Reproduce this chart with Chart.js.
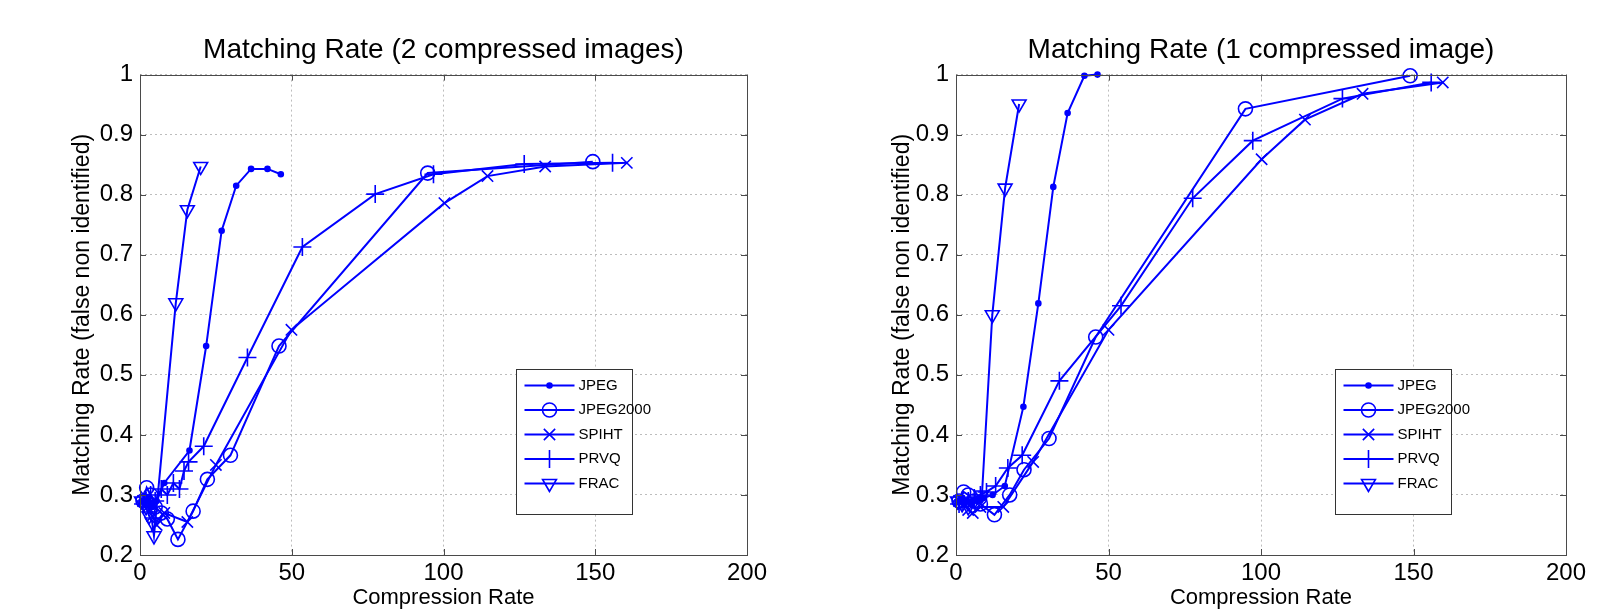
<!DOCTYPE html>
<html>
<head>
<meta charset="utf-8">
<script src="https://cdn.jsdelivr.net/npm/chart.js@4/dist/chart.umd.min.js"></script>
<style>
html, body { margin: 0; padding: 0; background: #fff; }
#wrap { position: relative; width: 1624px; height: 613px; overflow: hidden; }
#wrap canvas { position: absolute; top: 0; }
</style>
</head>
<body>
<div id="wrap">
  <canvas id="left" width="812" height="613" style="left:0px"></canvas>
  <canvas id="right" width="812" height="613" style="left:812px"></canvas>
</div>
<script>
// matching rate vs compression rate, two panels
var seriesNames = ["JPEG", "JPEG2000", "SPIHT", "PRVQ", "FRAC"];
var xTicks = [0, 50, 100, 150, 200];
var yTicks = [0.2, 0.3, 0.4, 0.5, 0.6, 0.7, 0.8, 0.9, 1];

// left panel: 2 compressed images
var l_jpeg_x = [0.5, 1.5, 2.5, 4, 5.5, 8, 16.3, 21.8, 26.9, 31.7, 36.6, 42.0, 46.4];
var l_jpeg_y = [0.29, 0.285, 0.29, 0.28, 0.29, 0.32, 0.374, 0.548, 0.74, 0.815, 0.843, 0.843, 0.834];
var l_j2k_x = [1, 2.2, 3.5, 5, 7, 9, 12.5, 17.5, 22.2, 29.8, 45.8, 94.8, 149.2];
var l_j2k_y = [0.29, 0.312, 0.30, 0.28, 0.27, 0.26, 0.226, 0.273, 0.326, 0.366, 0.548, 0.836, 0.855];
var l_spiht_x = [1, 2.5, 4, 5.5, 8, 15.6, 25, 49.9, 100.3, 114.5, 133.5, 160.4];
var l_spiht_y = [0.29, 0.28, 0.265, 0.25, 0.27, 0.255, 0.35, 0.575, 0.786, 0.831, 0.847, 0.853];
var l_prvq_x = [1, 2, 3.5, 5, 7, 9, 11, 13, 14.5, 16, 21, 35.4, 53.5, 77.5, 96.7, 126.6, 155.7];
var l_prvq_y = [0.285, 0.29, 0.30, 0.29, 0.31, 0.30, 0.32, 0.31, 0.34, 0.355, 0.381, 0.529, 0.713, 0.801, 0.834, 0.851, 0.853];
var l_frac_x = [0.5, 2, 3, 4, 4.6, 11.8, 15.6, 20.0];
var l_frac_y = [0.29, 0.28, 0.265, 0.255, 0.232, 0.62, 0.775, 0.847];

// right panel: 1 compressed image
var r_jpeg_x = [0.5, 1.5, 3, 5, 7, 9, 12, 16, 22.1, 27.0, 31.9, 36.6, 42.1, 46.4];
var r_jpeg_y = [0.29, 0.29, 0.29, 0.285, 0.29, 0.295, 0.30, 0.315, 0.447, 0.619, 0.813, 0.936, 0.998, 1.0];
var r_j2k_x = [1, 2.5, 4, 6, 8, 12.6, 17.6, 22.3, 30.5, 45.8, 94.9, 148.9];
var r_j2k_y = [0.29, 0.305, 0.30, 0.29, 0.285, 0.267, 0.30, 0.342, 0.394, 0.563, 0.943, 0.998];
var r_spiht_x = [1, 2.5, 4, 5.5, 8, 15.5, 25.3, 50.0, 100.2, 114.4, 133.3, 159.6];
var r_spiht_y = [0.29, 0.285, 0.275, 0.27, 0.28, 0.28, 0.355, 0.575, 0.859, 0.925, 0.968, 0.987];
var r_prvq_x = [1, 2, 4, 6, 8, 10, 13, 17, 21.7, 33.9, 54.1, 77.6, 97.3, 126.7, 155.8];
var r_prvq_y = [0.285, 0.29, 0.29, 0.295, 0.30, 0.305, 0.315, 0.345, 0.366, 0.49, 0.615, 0.794, 0.89, 0.96, 0.987];
var r_frac_x = [0.5, 2, 4, 6, 8.5, 11.9, 16.1, 20.7];
var r_frac_y = [0.29, 0.285, 0.28, 0.29, 0.30, 0.60, 0.811, 0.951];

var BLUE = "#0000ff";
var FONT = "'Liberation Sans', Arial, Helvetica, sans-serif";
Chart.defaults.font.family = FONT;
Chart.defaults.color = "#000";

function pts(xs, ys) {
  return xs.map(function (x, i) { return {x: x, y: ys[i]}; });
}

// marker look per series (MATLAB: '.-', 'o-', 'x-', '+-', 'v-')
var markerStyle = [
  {pointStyle: "circle", pointRadius: 2.5, pointBackgroundColor: BLUE, pointRotation: 0},
  {pointStyle: "circle", pointRadius: 7, pointBackgroundColor: "rgba(0,0,0,0)", pointRotation: 0},
  {pointStyle: "crossRot", pointRadius: 8, pointBackgroundColor: "rgba(0,0,0,0)", pointRotation: 0},
  {pointStyle: "cross", pointRadius: 9, pointBackgroundColor: "rgba(0,0,0,0)", pointRotation: 0},
  {pointStyle: "triangle", pointRadius: 8, pointBackgroundColor: "rgba(0,0,0,0)", pointRotation: 180}
];

function makeDatasets(list) {
  return list.map(function (d, i) {
    var m = markerStyle[i];
    return {
      label: seriesNames[i],
      data: pts(d[0], d[1]),
      borderColor: BLUE,
      borderWidth: 2,
      pointBorderColor: BLUE,
      pointBorderWidth: 1.6,
      pointStyle: m.pointStyle,
      pointRadius: m.pointRadius,
      pointRotation: m.pointRotation,
      pointBackgroundColor: m.pointBackgroundColor,
      tension: 0,
      clip: false
    };
  });
}

function drawMarker(ctx, ds, x, y) {
  var r = ds.pointRadius;
  ctx.beginPath();
  if (ds.pointStyle === "circle") {
    ctx.arc(x, y, r, 0, Math.PI * 2);
    ctx.fillStyle = ds.pointBackgroundColor;
    ctx.fill();
  } else if (ds.pointStyle === "cross") {
    ctx.moveTo(x - r, y); ctx.lineTo(x + r, y);
    ctx.moveTo(x, y - r); ctx.lineTo(x, y + r);
  } else if (ds.pointStyle === "crossRot") {
    var d = r * Math.SQRT1_2;
    ctx.moveTo(x - d, y - d); ctx.lineTo(x + d, y + d);
    ctx.moveTo(x - d, y + d); ctx.lineTo(x + d, y - d);
  } else if (ds.pointStyle === "triangle") {
    var a = ds.pointRotation * Math.PI / 180;
    for (var k = 0; k < 3; k++) {
      var px = x + Math.sin(a) * r, py = y - Math.cos(a) * r;
      if (k === 0) ctx.moveTo(px, py); else ctx.lineTo(px, py);
      a += Math.PI * 2 / 3;
    }
    ctx.closePath();
  }
  ctx.lineWidth = ds.pointBorderWidth;
  ctx.strokeStyle = ds.pointBorderColor;
  ctx.stroke();
}

// axes box, inward ticks and the legend box inside the plot
var matlabBox = {
  id: "matlabBox",
  afterDraw: function (chart, args, opts) {
    var ctx = chart.ctx, a = chart.chartArea;
    var sx = chart.scales.x, sy = chart.scales.y;
    ctx.save();
    ctx.strokeStyle = "#4a4a4a";
    ctx.lineWidth = 1;
    ctx.beginPath();
    xTicks.forEach(function (v) {
      var p = Math.round(sx.getPixelForValue(v)) + 0.5;
      ctx.moveTo(p, a.bottom); ctx.lineTo(p, a.bottom - 6);
      ctx.moveTo(p, a.top); ctx.lineTo(p, a.top + 6);
    });
    yTicks.forEach(function (v) {
      var p = Math.round(sy.getPixelForValue(v)) + 0.5;
      ctx.moveTo(a.left, p); ctx.lineTo(a.left + 6, p);
      ctx.moveTo(a.right, p); ctx.lineTo(a.right - 6, p);
    });
    ctx.stroke();
    ctx.strokeRect(Math.round(a.left) + 0.5, Math.round(a.top) + 0.5,
      Math.round(a.right - a.left), Math.round(a.bottom - a.top));

    // legend
    var lw = 116, lh = 145;
    var lx = Math.round(a.right - opts.right - lw) + 0.5;
    var ly = Math.round(a.top + opts.top) + 0.5;
    ctx.fillStyle = "#fff";
    ctx.fillRect(lx, ly, lw, lh);
    ctx.strokeStyle = "#333";
    ctx.strokeRect(lx, ly, lw, lh);
    ctx.font = "15px " + FONT;
    ctx.textBaseline = "middle";
    chart.data.datasets.forEach(function (ds, i) {
      var y = ly + 16 + i * 24.5;
      ctx.beginPath();
      ctx.moveTo(lx + 8, y); ctx.lineTo(lx + 58, y);
      ctx.strokeStyle = ds.borderColor;
      ctx.lineWidth = ds.borderWidth;
      ctx.stroke();
      drawMarker(ctx, ds, lx + 33, y);
      ctx.fillStyle = "#000";
      ctx.fillText(ds.label, lx + 62, y);
    });
    ctx.restore();
  }
};

function makeChart(id, title, list, yAxisW, padRight, yTitlePad) {
  return new Chart(document.getElementById(id), {
    type: "line",
    data: {datasets: makeDatasets(list)},
    plugins: [matlabBox],
    options: {
      responsive: false,
      animation: false,
      events: [],
      layout: {padding: {left: 0, right: padRight, top: 0, bottom: 0}},
      plugins: {
        legend: {display: false},
        tooltip: {enabled: false},
        title: {
          display: true,
          text: title,
          fullSize: false,
          color: "#000",
          font: {size: 28, weight: "normal"},
          padding: {top: 33, bottom: 8}
        },
        matlabBox: {right: 115, top: 294}
      },
      scales: {
        x: {
          type: "linear",
          min: 0, max: 200,
          afterBuildTicks: function (s) { s.ticks = xTicks.map(function (v) { return {value: v}; }); },
          afterFit: function (s) { s.height = 58; },
          ticks: {color: "#000", font: {size: 24}, padding: 4, maxRotation: 0},
          grid: {color: "#bdbdbd", lineWidth: 1, drawTicks: false},
          border: {display: false, dash: [2, 3]},
          title: {display: true, text: "Compression Rate", color: "#000", font: {size: 22}, padding: {top: 0, bottom: 2}}
        },
        y: {
          type: "linear",
          min: 0.2, max: 1,
          afterBuildTicks: function (s) { s.ticks = yTicks.map(function (v) { return {value: v}; }); },
          afterFit: function (s) { s.width = yAxisW; },
          ticks: {
            color: "#000", font: {size: 24}, padding: 7,
            callback: function (v) { return v === 1 ? "1" : v.toFixed(1); }
          },
          grid: {color: "#bdbdbd", lineWidth: 1, drawTicks: false},
          border: {display: false, dash: [2, 3]},
          title: {display: true, text: "Matching Rate (false non identified)", color: "#000", font: {size: 23}, padding: {top: yTitlePad, bottom: 0}}
        }
      }
    }
  });
}

makeChart("left", "Matching Rate (2 compressed images)", [
  [l_jpeg_x, l_jpeg_y], [l_j2k_x, l_j2k_y], [l_spiht_x, l_spiht_y], [l_prvq_x, l_prvq_y], [l_frac_x, l_frac_y]
], 140, 65, 69);

makeChart("right", "Matching Rate (1 compressed image)", [
  [r_jpeg_x, r_jpeg_y], [r_j2k_x, r_j2k_y], [r_spiht_x, r_spiht_y], [r_prvq_x, r_prvq_y], [r_frac_x, r_frac_y]
], 144, 58, 77);
</script>
</body>
</html>
